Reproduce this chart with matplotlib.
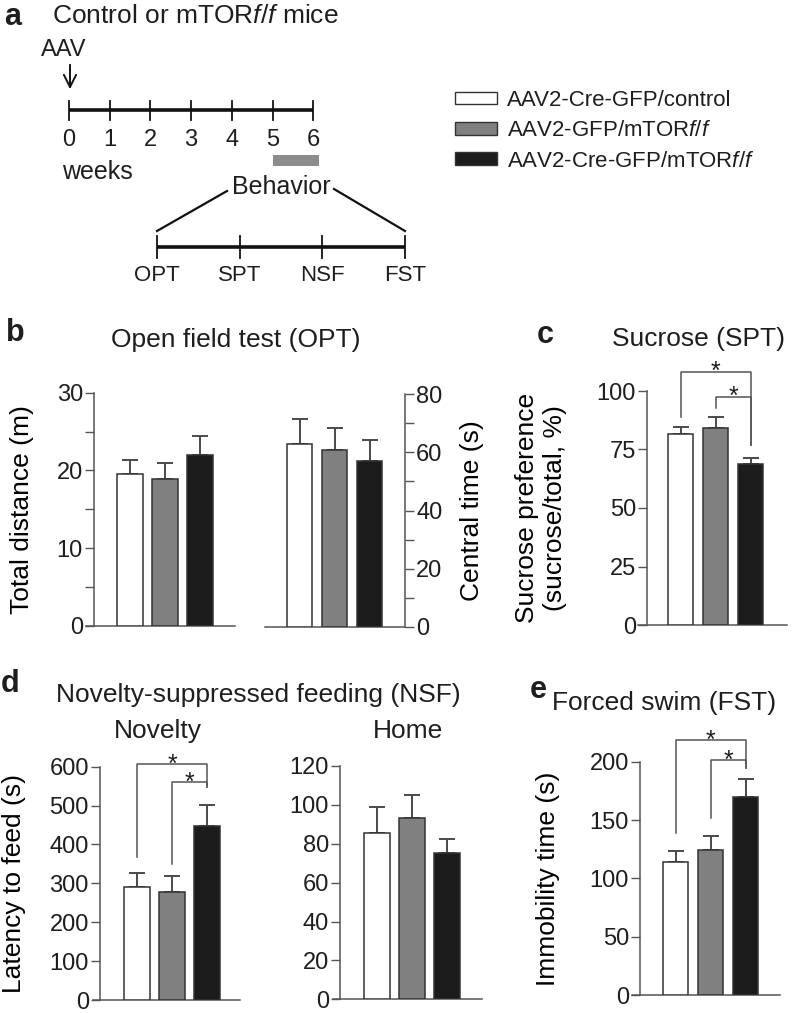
import numpy as np
import matplotlib
matplotlib.use('Agg')
import matplotlib.pyplot as plt
from matplotlib.patches import Patch, Rectangle

plt.rcParams['font.family'] = ['Liberation Sans', 'DejaVu Sans']
plt.rcParams['mathtext.fontset'] = 'custom'
plt.rcParams['mathtext.rm'] = 'Liberation Sans'
plt.rcParams['mathtext.it'] = 'Liberation Sans:italic'
plt.rcParams['text.color'] = '#1e1e1e'

W, H = 798, 1013  # figure size in px

# ---- data ----
groups = ['AAV2-Cre-GFP/control', r'AAV2-GFP/mTOR$\mathit{f/f}$', r'AAV2-Cre-GFP/mTOR$\mathit{f/f}$']
bar_colors = ['white', '#808080', '#1c1c1c']

weeks = [0, 1, 2, 3, 4, 5, 6]
behavior_weeks = [5, 6]
stages = ['OPT', 'SPT', 'NSF', 'FST']

opt_distance = [19.5, 18.9, 22.0]
opt_distance_err = [1.9, 2.0, 2.4]
opt_central = [62.9, 60.8, 57.2]
opt_central_err = [8.6, 7.6, 7.1]

spt_pref = [81.5, 84.0, 68.7]
spt_pref_err = [3.3, 4.7, 2.5]
spt_sig = [(0, 2), (1, 2)]
spt_sig_top = [108.3, 97.6]
spt_sig_left = [89.0, 92.6]
spt_sig_right = [76.9, 76.9]

nsf_novelty = [290, 277, 448]
nsf_novelty_err = [37, 42, 54]
nsf_sig = [(0, 2), (1, 2)]
nsf_sig_top = [606, 561]
nsf_sig_left = [369, 351]
nsf_sig_right = [549, 549]

nsf_home = [85.7, 93.4, 75.1]
nsf_home_err = [13.4, 11.7, 7.4]

fst_immob = [114.3, 124.3, 170.0]
fst_immob_err = [9.4, 12.0, 14.9]
fst_sig = [(0, 2), (1, 2)]
fst_sig_top = [218.6, 201.4]
fst_sig_left = [138.6, 151.4]
fst_sig_right = [194.3, 194.3]

fig = plt.figure(figsize=(W / 100, H / 100), dpi=100)

SP = 35.0  # px between bar centres
GRAY = '#555555'


def bar_axes(x0, x1, ytop, ybot, c0, ymax):
    ax = fig.add_axes([x0 / W, 1 - ybot / H, (x1 - x0) / W, (ybot - ytop) / H])
    ax.set_xlim((x0 - c0) / SP, (x1 - c0) / SP)
    ax.set_ylim(0, ymax)
    ax.px = (x0, x1, c0)
    return ax


def style(ax, spine_px, side, major, minor=None):
    x0, x1, c0 = ax.px
    for s in ax.spines.values():
        s.set_visible(False)
        s.set_color(GRAY)
        s.set_linewidth(1.1)
    ax.spines['bottom'].set_visible(True)
    ax.spines[side].set_visible(True)
    if spine_px is not None:
        ax.spines[side].set_position(('data', (spine_px - c0) / SP))
    ax.set_xticks([])
    ax.yaxis.set_ticks_position(side)
    ax.set_yticks(major)
    if minor is not None:
        ax.set_yticks(minor, minor=True)
    ax.tick_params(axis='y', which='both', direction='out', length=6.5, width=1.0,
                   color=GRAY, labelsize=17, labelcolor='#1e1e1e', pad=1.5)
    ax.patch.set_visible(False)


def draw_bars(ax, vals, errs):
    x = np.arange(len(vals))
    ax.bar(x, vals, width=0.74, color=bar_colors, edgecolor='#333333', linewidth=1.1, zorder=3)
    ax.errorbar(x, vals, yerr=[np.zeros(len(vals)), errs], fmt='none', ecolor='#4a4a4a',
                elinewidth=1.4, capsize=6, capthick=1.4, zorder=2)


def ylabel_at(ax, text, px, right=False):
    x0, x1, c0 = ax.px
    if right:
        ax.yaxis.set_label_position('right')
    ax.set_ylabel(text, fontsize=19)
    ax.yaxis.set_label_coords((px - x0) / (x1 - x0), 0.5)


def brackets(ax, pairs, tops, lefts, rights):
    for (i, j), t, yl, yr in zip(pairs, tops, lefts, rights):
        ax.plot([i, i, j, j], [yl, t, t, yr], color=GRAY, lw=1.1, clip_on=False)
        ax.annotate('*', xy=((i + j) / 2, t), xytext=(0, -5.5), textcoords='offset points',
                    ha='center', va='baseline', fontsize=18, annotation_clip=False)


def ftext(px, py, s, **kw):
    fig.text(px / W, 1 - py / H, s, **kw)


# ---- panel a (diagram in pixel space) ----
ax_a = fig.add_axes([0, 0, 1, 1])
ax_a.set_xlim(0, W)
ax_a.set_ylim(H, 0)
ax_a.axis('off')

ax_a.text(52, 16, r'Control or mTOR$\mathit{f/f}$ mice', fontsize=19, va='center', ha='left')
ax_a.text(41, 50, 'AAV', fontsize=17, va='center', ha='left')
ax_a.annotate('', xy=(70, 92), xytext=(70, 62),
              arrowprops=dict(arrowstyle='->', lw=1.4, color='#111111', mutation_scale=22))

week_x = 69 + np.array(weeks) * 40.7
ax_a.plot([week_x[0], week_x[-1]], [110, 110], color='#111111', lw=2.6, solid_capstyle='butt')
for wx, w in zip(week_x, weeks):
    ax_a.plot([wx, wx], [101, 120], color='#111111', lw=1.3)
    ax_a.text(wx, 140, str(w), ha='center', va='center', fontsize=17)
bx0 = 69 + behavior_weeks[0] * 40.7
bx1 = 69 + behavior_weeks[1] * 40.7 + 6
ax_a.add_patch(Rectangle((bx0, 155), bx1 - bx0, 11, facecolor='#8c8c8c', edgecolor='none'))
ax_a.text(62, 172, 'weeks', fontsize=18, va='center', ha='left')
ax_a.text(281, 187, 'Behavior', fontsize=18, va='center', ha='center')

stage_x = np.linspace(157, 405, len(stages))
ax_a.plot([227, stage_x[0]], [191, 231], color='#111111', lw=1.6)
ax_a.plot([334, stage_x[-1]], [189, 231], color='#111111', lw=1.6)
ax_a.plot([stage_x[0], stage_x[-1]], [247, 247], color='#111111', lw=2.6, solid_capstyle='butt')
for sx, s in zip(stage_x, stages):
    ax_a.plot([sx, sx], [236, 258], color='#111111', lw=1.3)
    ax_a.text(sx, 275, s, ha='center', va='center', fontsize=16)

# legend
handles = [Patch(facecolor=c, edgecolor='#333333', linewidth=1.0) for c in bar_colors]
fig.legend(handles, groups, loc='upper left', bbox_to_anchor=(455 / W, 1 - 90 / H),
           frameon=False, fontsize=16, handlelength=1.9, handleheight=0.5,
           handletextpad=0.45, labelspacing=0.42, borderpad=0, borderaxespad=0)

# ---- panel letters and titles ----
ftext(4, 2, 'a', fontsize=22, fontweight='bold', va='top')
ftext(6, 333, 'b', fontsize=22, fontweight='bold', va='center')
ftext(537, 335, 'c', fontsize=22, fontweight='bold', va='center')
ftext(1, 684, 'd', fontsize=22, fontweight='bold', va='center')
ftext(530, 690, 'e', fontsize=22, fontweight='bold', va='center')

ftext(236, 340, 'Open field test (OPT)', fontsize=19, ha='center', va='center')
ftext(698, 339, 'Sucrose (SPT)', fontsize=19, ha='center', va='center')
ftext(258, 695, 'Novelty-suppressed feeding (NSF)', fontsize=19, ha='center', va='center')
ftext(158, 731, 'Novelty', fontsize=19, ha='center', va='center')
ftext(408, 731, 'Home', fontsize=19, ha='center', va='center')
ftext(664, 703, 'Forced swim (FST)', fontsize=19, ha='center', va='center')

# ---- panel b ----
ax_b1 = bar_axes(86, 235, 392.7, 626, 130, 30)
style(ax_b1, 94, 'left', [0, 10, 20, 30], [5, 15, 25])
draw_bars(ax_b1, opt_distance, opt_distance_err)
ylabel_at(ax_b1, 'Total distance (m)', 34)

ax_b2 = bar_axes(265, 405, 394.3, 626.7, 299.5, 80)
style(ax_b2, None, 'right', [0, 20, 40, 60, 80], [10, 30, 50, 70])
draw_bars(ax_b2, opt_central, opt_central_err)
ylabel_at(ax_b2, 'Central time (s)', 460, right=True)

# ---- panel c ----
ax_c = bar_axes(638, 787, 391, 625, 680.5, 100)
style(ax_c, 647, 'left', [0, 25, 50, 75, 100])
draw_bars(ax_c, spt_pref, spt_pref_err)
brackets(ax_c, spt_sig, spt_sig_top, spt_sig_left, spt_sig_right)
ylabel_at(ax_c, 'Sucrose preference\n(sucrose/total, %)', 567)

# ---- panel d ----
ax_d1 = bar_axes(93, 240, 766.7, 1000, 137, 600)
style(ax_d1, 100, 'left', [0, 100, 200, 300, 400, 500, 600])
draw_bars(ax_d1, nsf_novelty, nsf_novelty_err)
brackets(ax_d1, nsf_sig, nsf_sig_top, nsf_sig_left, nsf_sig_right)
ylabel_at(ax_d1, 'Latency to feed (s)', 26)

ax_d2 = bar_axes(333, 482, 766, 999.3, 377, 120)
style(ax_d2, 340, 'left', [0, 20, 40, 60, 80, 100, 120])
draw_bars(ax_d2, nsf_home, nsf_home_err)

# ---- panel e ----
ax_e = bar_axes(632, 780, 761.7, 995, 675.5, 200)
style(ax_e, 640, 'left', [0, 50, 100, 150, 200])
draw_bars(ax_e, fst_immob, fst_immob_err)
brackets(ax_e, fst_sig, fst_sig_top, fst_sig_left, fst_sig_right)
ylabel_at(ax_e, 'Immobility time (s)', 560)

fig.savefig('out.png', dpi=100)
